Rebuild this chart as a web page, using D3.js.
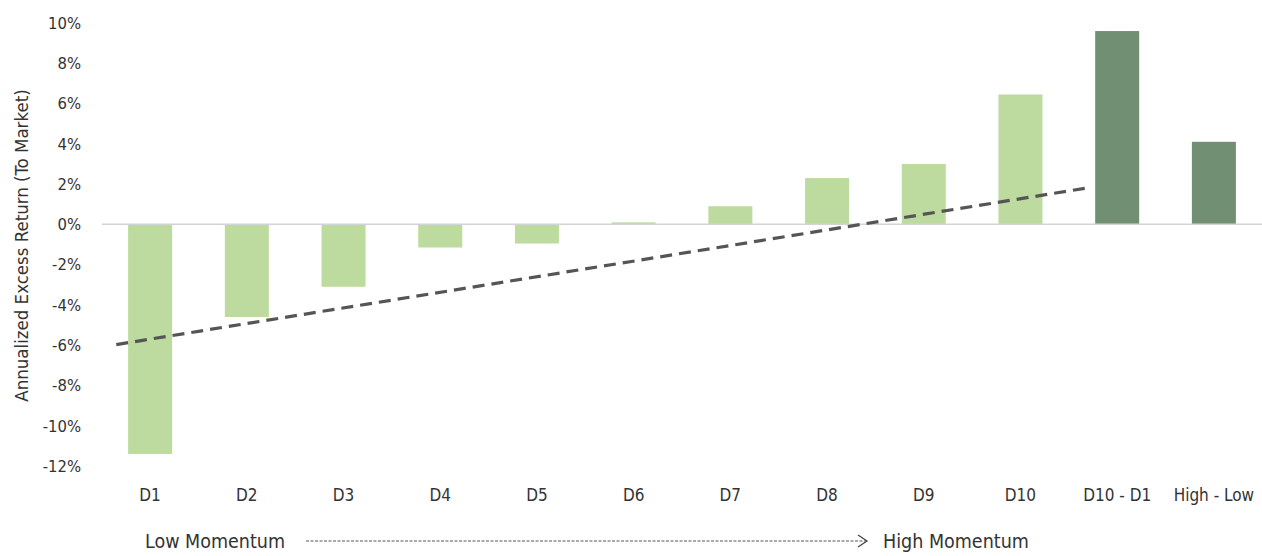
<!DOCTYPE html>
<html><head><meta charset="utf-8">
<script src="https://cdn.jsdelivr.net/npm/d3@7"></script>
<style>body{margin:0;background:#fff}svg{display:block}text{font-family:"DejaVu Sans Condensed","Liberation Sans Narrow",sans-serif;fill:#333}</style>
</head><body><svg id="c" width="1262" height="556"></svg>
<script>
const categories = ["D1","D2","D3","D4","D5","D6","D7","D8","D9","D10","D10 - D1","High - Low"];
const values = [-11.4,-4.6,-3.1,-1.15,-0.95,0.1,0.9,2.3,3.0,6.45,9.6,4.1];
const barGroup = ["decile","decile","decile","decile","decile","decile","decile","decile","decile","decile","spread","spread"];
const yTicks = [10,8,6,4,2,0,-2,-4,-6,-8,-10,-12];
const trendPos = [-0.35, 9.73];
const trendVal = [-5.97, 1.84];
const yTitle = "Annualized Excess Return (To Market)";
const lowLabel = "Low Momentum", highLabel = "High Momentum";

const svg = d3.select("#c");
const left = 102, right = 1262;
const x = d3.scaleBand().domain(categories).range([left, right]).paddingInner(0.545).paddingOuter(0.27);
const y = d3.scaleLinear().domain([-12, 10]).range([466, 23]);
const idx = d3.scaleLinear().domain([0, categories.length-1]).range([x(categories[0])+x.bandwidth()/2, x(categories[categories.length-1])+x.bandwidth()/2]);
const color = {decile:"#bddb9f", spread:"#718f72"};

// y tick labels
svg.append("g").selectAll("text").data(yTicks).join("text")
  .attr("x", 81).attr("y", d=>y(d)).attr("dy","0.35em").attr("text-anchor","end")
  .style("font-size","16.5px").text(d=>d+"%");

// bars
svg.append("g").selectAll("rect").data(values).join("rect")
  .attr("x",(d,i)=>x(categories[i])).attr("width",x.bandwidth())
  .attr("y",d=>y(Math.max(0,d))).attr("height",d=>Math.abs(y(d)-y(0)))
  .attr("fill",(d,i)=>color[barGroup[i]]);

// zero line
svg.append("line").attr("x1",left).attr("x2",right).attr("y1",y(0)).attr("y2",y(0))
  .attr("stroke","#d4d4d4").attr("stroke-width",1.5);

// trend line
svg.append("path").datum(trendPos.map((p,i)=>[p,trendVal[i]]))
  .attr("d", d3.line().x(d=>idx(d[0])).y(d=>y(d[1])))
  .attr("fill","none").attr("stroke","#555").attr("stroke-width",3.2).attr("stroke-dasharray","12,7");

// x labels
svg.append("g").selectAll("text").data(categories).join("text")
  .attr("x",d=>x(d)+x.bandwidth()/2).attr("y",495).attr("dy","0.35em").attr("text-anchor","middle")
  .style("font-size","17px").text(d=>d);

// y title
svg.append("text").attr("transform",`translate(22,${y(-1.05)}) rotate(-90)`).attr("text-anchor","middle").attr("dy","0.35em")
  .style("font-size","18.5px").text(yTitle);

// momentum arrow
svg.append("text").attr("x",145).attr("y",541).attr("dy","0.35em").style("font-size","19.5px").text(lowLabel);
svg.append("text").attr("x",883).attr("y",541).attr("dy","0.35em").style("font-size","19.5px").text(highLabel);
svg.append("line").attr("x1",306).attr("x2",866).attr("y1",541).attr("y2",541)
  .attr("stroke","#555").attr("stroke-width",1).attr("stroke-dasharray","3,1.5");
svg.append("path").attr("d","M858,535 L867,541 L858,547").attr("fill","none").attr("stroke","#444").attr("stroke-width",1.3);
</script></body></html>
